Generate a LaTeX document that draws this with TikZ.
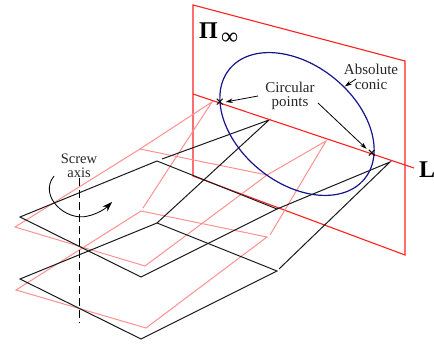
\documentclass[tikz,border=0pt]{standalone}
\usepackage{fontspec}
\setmainfont{Liberation Serif}
\usetikzlibrary{arrows.meta}
\definecolor{planered}{HTML}{FF2020}
\definecolor{sheetpink}{HTML}{FF9090}
\definecolor{conicblue}{HTML}{14148C}
\tikzset{
  blacksheet/.style={draw=black!90,line width=1pt,line join=miter},
  pinksheet/.style={draw=sheetpink,line width=1pt,line join=miter},
  planeline/.style={draw=planered,line width=1.1pt},
  pointer/.style={draw=black,line width=0.8pt,-{Stealth[length=7pt,width=4.5pt]},shorten >=1pt},
  lbl/.style={font=\fontsize{15}{14.5}\selectfont,align=center,inner sep=0pt,text=black!85},
  crossmark/.style={font=\fontsize{16}{16}\selectfont\bfseries,inner sep=0pt}
}
\begin{document}
\begin{tikzpicture}[x=1pt,y=-1pt]
\useasboundingbox (0,0) rectangle (434,348);
% plane
\coordinate (pa) at (193,5);
\coordinate (pb) at (405,61);
\coordinate (pc) at (405,255);
\coordinate (pd) at (193,176);
\draw[planeline] (pa)--(pb)--(pc)--(pd)--cycle;
% pink sheets
\coordinate (u1) at (15,227);
\coordinate (u2) at (140,149);
\coordinate (u3) at (267,175);
\coordinate (u4) at (145,266);
\coordinate (l1) at (16,290);
\coordinate (l2) at (141,211);
\coordinate (l3) at (267,237);
\coordinate (l4) at (146,328);
\coordinate (v1) at (212,102);
\coordinate (v2) at (326,141);
\coordinate (v1b) at (143,208);
\coordinate (v2b) at (270,235);
\draw[pinksheet] (u1)--(u2)--(u3)--(u4)--cycle;
\draw[pinksheet] (l1)--(l2)--(l3)--(l4)--cycle;
\draw[pinksheet] (u2)--(v1)--(v1b);
\draw[pinksheet] (u3)--(v2)--(v2b);
% black sheets
\coordinate (a1) at (20,217);
\coordinate (a2) at (157,161);
\coordinate (a3) at (277,209);
\coordinate (a4) at (141,277);
\coordinate (b1) at (20,279);
\coordinate (b2) at (157,223);
\coordinate (b3) at (277,271);
\coordinate (b4) at (141,339);
\coordinate (w1) at (269,120);
\coordinate (w2) at (390,162);
\coordinate (a2b) at (162,159);
\coordinate (b3b) at (279,269);
\draw[blacksheet] (a1)--(a2)--(a3)--(a4)--cycle;
\draw[blacksheet] (b1)--(b2)--(b3)--(b4)--cycle;
\draw[blacksheet] (a2b)--(w1)--(b2);
\draw[blacksheet] (a3)--(w2)--(b3b);
% line at infinity
\coordinate (L0) at (193,94);
\coordinate (L1) at (414,168);
\draw[planeline] (L0)--(L1);
% conic
\draw[conicblue,line width=1.2pt] (297,124) ellipse[x radius=87,y radius=59,rotate=-39];
% circular points
\node[crossmark] (cp1) at (220,103) {×};
\node[crossmark] (cp2) at (372,154) {×};
% labels
\node[font=\fontsize{24}{24}\selectfont\bfseries,inner sep=0pt,anchor=base west] (pi) at (199,38) {Π};
\node[font=\fontsize{24}{24}\selectfont,inner sep=0pt,anchor=base west] (inf) at (221,44) {∞};
\node[font=\fontsize{24}{24}\selectfont\bfseries,inner sep=0pt,anchor=base west] (Ll) at (419,177) {L};
\node[lbl] (circ) at (290,96) {Circular\\points};
\node[lbl] (abs) at (371,77) {Absolute\\conic};
\node[lbl,font=\fontsize{14.5}{14}\selectfont] (screw) at (79,165.5) {Screw\\axis};
\coordinate (c1s) at (258,96);
\coordinate (c2s) at (318,103);
\coordinate (abss) at (356,79);
\coordinate (abse) at (344,87);
\draw[pointer] (c1s)--(cp1);
\draw[pointer] (c2s)--(cp2);
\draw[pointer] (abss)--(abse);
% axis
\coordinate (ax0) at (79.5,178);
\coordinate (ax1) at (79.5,323);
\draw[black,line width=0.9pt,dash pattern=on 8pt off 4pt] (ax0)--(ax1);
% rotation arrow
\coordinate (r0) at (54,176);
\coordinate (r1) at (112,202);
\draw[black,line width=0.85pt,-{Stealth[length=10pt,width=7pt]}] (r0) .. controls (38,196) and (66,222) .. (88,216) .. controls (97,214) and (105,209) .. (r1);
\end{tikzpicture}
\end{document}
